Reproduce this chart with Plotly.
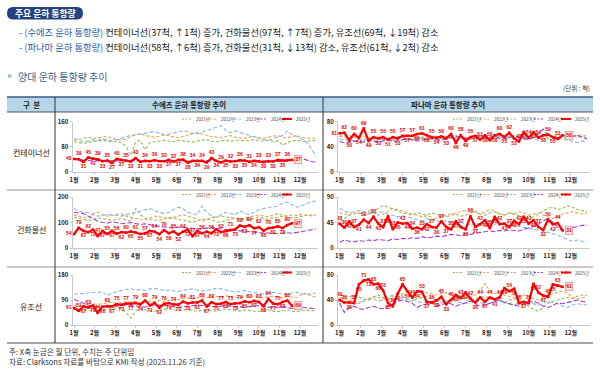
import plotly.graph_objects as go

W, H = 600, 373
def px(x): return x / W
def py(y): return 1 - y / H

FONT = "Noto Sans CJK KR"

# ---------------- data ----------------
months = [f"{m}월" for m in range(1, 13)]
years = ["2021년", "2022년", "2023년", "2024년", "2025년"]

# Suez - container
suez_con_2021 = [95,92,90,93,96,98,100,97,95,96,92,80,52,95,100,70,92,95,98,100,97,95,100,98,96,94,98,100,102,96,95,98,100,97,99,101,98,100,102,99,97,100,96,98,84,92,98,100,97,95,100,98]
suez_con_2022 = [100,104,108,110,106,108,110,112,106,102,100,104,110,118,120,115,112,110,112,116,115,110,108,112,118,122,125,120,115,112,110,108,112,115,110,108,106,110,112,108,106,110,112,115,110,108,112,115,110,106,108,105]
suez_con_2023 = [106,100,95,98,102,100,104,100,98,102,108,112,115,118,120,122,125,128,122,118,120,124,126,130,128,122,120,125,130,135,140,147,132,124,130,126,120,115,110,106,102,100,105,110,115,130,118,112,105,95,75,50]
suez_con_2024 = [42,38,36,35,34,32,33,35,34,33,34,35,36,34,33,32,34,35,33,34,32,33,34,35,33,32,34,33,35,34,33,32,34,33,31,33,34,32,33,35,34,33,32,30,31,33,35,38,42,36,32,30]
suez_con_2025 = [40,39,31,45,41,39,33,35,27,40,37,35,32,43,31,34,33,36,33,33,37,32,37,38,28,34,34,34,29,43,34,29,35,32,33,36,35,31,34,33,30,33,32,37,35,36,37]

# Panama - container
pan_con_2021 = [57,55,54,56,52,50,54,55,53,51,52,54,56,55,53,50,52,55,54,53,56,52,54,55,53,56,54,52,55,57,53,51,54,56,55,53,57,56,54,52,55,56,58,54,57,55,53,56,58,57,59,56]
pan_con_2022 = [56,58,57,55,54,56,53,52,55,54,52,50,53,55,52,51,54,53,55,52,51,54,56,53,55,57,54,52,56,58,55,53,56,60,57,55,58,56,54,57,59,56,58,55,57,59,56,58,57,55,56,54]
pan_con_2023 = [52,50,51,49,52,50,53,51,49,52,54,50,51,53,52,50,54,52,51,53,55,52,54,56,53,52,55,54,53,57,55,52,54,53,56,55,52,54,51,53,52,50,54,52,53,55,52,50,47,46,49,48]
pan_con_2024 = [48,46,47,49,48,47,50,48,47,49,51,48,49,50,52,51,49,50,52,53,51,50,52,55,57,54,53,55,58,56,54,55,57,53,52,55,56,54,53,51,55,60,68,58,55,54,57,59,56,58,55,52]
pan_con_2025 = [61,62,50,60,54,69,49,55,53,55,51,55,53,57,57,57,60,61,58,55,54,56,53,60,46,58,49,55,57,51,58,50,58,60,55,62,53,48,63,54,63,54,58,59,55,52,58]

# Suez - dry bulk
suez_dry_2021 = [120,115,110,108,112,118,115,110,108,112,115,110,105,155,130,118,112,110,108,115,120,118,112,110,105,100,108,112,115,110,105,100,108,112,118,115,110,112,118,122,115,112,118,120,125,122,118,120,125,128,130,126]
suez_dry_2022 = [130,125,120,118,135,140,130,125,128,132,135,125,120,115,112,110,118,125,122,118,115,120,125,130,125,120,110,105,112,118,120,125,122,118,115,112,118,122,128,130,125,122,130,135,128,125,130,128,132,130,126,130]
suez_dry_2023 = [155,145,140,138,130,125,128,132,130,128,125,130,135,140,145,150,155,145,140,135,140,150,160,155,140,135,130,165,140,125,120,130,140,135,130,145,138,130,140,150,155,158,160,165,175,180,170,160,165,175,180,185]
suez_dry_2024 = [140,138,135,125,115,105,100,98,102,100,95,98,100,96,92,95,90,88,85,82,80,78,82,80,78,76,75,74,78,80,77,75,72,70,68,66,65,63,62,60,60,58,57,56,58,60,58,60,64,68,72,75]
suez_dry_2025 = [54,79,67,62,72,47,67,55,67,56,62,60,65,61,55,57,67,64,54,70,58,65,52,64,72,47,67,58,64,58,73,62,66,71,73,88,83,89,77,82,68,78,80,85,78,90,97]

# Panama - dry bulk
pan_dry_2021 = [55,52,58,60,62,58,60,65,70,75,72,68,65,62,60,58,62,60,58,62,60,57,55,58,60,56,58,62,65,60,58,62,64,60,58,62,60,58,55,52,55,60,65,70,72,68,70,75,72,68,66,64]
pan_dry_2022 = [62,60,58,62,60,64,66,62,58,60,65,70,68,65,62,60,58,55,57,55,52,54,58,60,62,64,66,65,62,60,64,68,65,60,58,62,60,64,62,58,60,62,58,55,52,55,60,62,64,62,60,62]
pan_dry_2023 = [70,65,62,64,66,65,62,60,63,64,60,58,55,57,55,52,50,48,52,50,48,46,48,45,44,46,42,40,45,42,44,40,42,44,40,38,40,38,36,35,33,32,30,28,25,22,18,15,12,14,12,10]
pan_dry_2024 = [10,14,12,11,13,12,14,13,15,14,13,16,15,17,16,18,17,20,18,19,21,20,22,24,23,22,25,24,26,27,28,30,29,31,30,32,31,30,33,35,38,42,48,52,45,36,30,33,36,38,40,40]
pan_dry_2025 = [43,36,47,37,41,50,44,55,43,37,56,33,45,43,44,34,36,33,42,37,36,47,37,33,47,37,33,56,37,42,49,35,55,42,43,37,48,42,55,43,49,37,32,50,42,44,31]

# Suez - tanker
suez_tan_2021 = [62,58,55,52,55,58,54,56,60,62,58,45,25,50,62,55,52,50,54,56,58,55,52,54,56,52,50,53,55,52,50,54,58,55,52,50,54,52,50,48,52,55,50,48,52,54,50,48,52,55,50,52]
suez_tan_2022 = [70,68,72,75,78,74,76,80,82,78,80,84,82,85,80,83,86,84,88,85,90,88,92,95,98,94,100,96,98,104,102,100,105,102,100,98,104,106,102,100,98,102,104,100,98,102,100,98,110,115,105,100]
suez_tan_2023 = [110,115,112,114,118,116,120,105,115,120,125,128,130,126,128,124,130,132,128,124,126,122,120,125,128,130,126,122,124,128,132,130,126,120,118,122,124,120,118,115,112,116,118,114,112,110,115,118,112,110,112,115]
suez_tan_2024 = [92,85,78,72,68,66,65,64,66,68,70,72,70,68,66,65,68,70,72,70,68,66,64,66,68,70,72,70,68,66,65,68,70,68,66,65,64,66,68,70,66,64,62,64,66,62,60,62,64,62,60,58]
suez_tan_2025 = [61,51,67,63,70,44,66,68,67,75,73,77,77,79,74,88,71,79,62,76,79,74,73,84,78,81,81,88,67,82,75,77,83,75,78,79,85,82,87,83,68,94,77,75,83,88,69]

# Panama - tanker
pan_tan_2021 = [48,46,45,47,44,42,40,45,48,44,42,40,42,44,40,38,42,44,46,42,40,38,36,40,42,44,40,38,42,44,46,42,40,38,36,40,42,40,38,30,25,22,28,35,38,40,42,44,42,46,48,47]
pan_tan_2022 = [44,42,40,38,36,40,42,45,44,42,40,46,48,50,48,46,48,50,52,50,48,50,52,50,48,46,44,45,48,55,66,55,50,52,48,46,44,45,48,46,42,40,44,48,50,52,55,50,45,42,44,45]
pan_tan_2023 = [40,36,38,35,34,38,40,42,38,40,44,48,50,46,42,40,38,36,38,35,34,36,38,40,38,36,34,38,40,36,34,35,38,40,36,34,32,35,38,36,34,32,35,38,36,34,30,28,32,34,33,32]
pan_tan_2024 = [35,20,28,30,26,25,28,30,27,26,30,34,38,40,38,35,28,32,34,36,30,32,35,34,30,33,36,38,34,30,32,35,38,40,36,34,32,30,34,36,38,35,30,28,32,35,34,36,38,40,38,36]
pan_tan_2025 = [40,36,36,35,65,71,73,65,66,55,35,30,50,65,54,44,54,53,37,36,39,45,33,40,48,43,52,42,36,44,37,44,41,44,59,54,58,35,37,35,66,52,47,45,65,63,61]

suez_ticks = {"con": [0, 80, 160], "dry": [0, 100, 200], "tan": [0, 90, 180]}
pan_ticks = {"con": [0, 40, 80], "dry": [0, 45, 90], "tan": [0, 40, 80]}

# ---------------- styling / layout ----------------
colors = ["#8BBE54", "#F2A04A", "#86B8E4", "#A23FCC", "#FF0000"]
dashes = ["3px,2px", "3px,2px", "4px,2px", "5px,2px", "solid"]

# column geometry (pixels): (domain left, domain right, first-week px, px per week)
cols = [(72.5, 318, 74, 4.74), (338, 590, 339.5, 4.85)]
# row geometry: (y of 0, y of max)
rows = [(171.5, 121.5), (248, 197), (325, 275)]

charts = [
    (0, 0, [suez_con_2021, suez_con_2022, suez_con_2023, suez_con_2024, suez_con_2025], suez_ticks["con"], "middle left"),
    (0, 1, [pan_con_2021, pan_con_2022, pan_con_2023, pan_con_2024, pan_con_2025], pan_ticks["con"], "middle left"),
    (1, 0, [suez_dry_2021, suez_dry_2022, suez_dry_2023, suez_dry_2024, suez_dry_2025], suez_ticks["dry"], "middle left"),
    (1, 1, [pan_dry_2021, pan_dry_2022, pan_dry_2023, pan_dry_2024, pan_dry_2025], pan_ticks["dry"], "top center"),
    (2, 0, [suez_tan_2021, suez_tan_2022, suez_tan_2023, suez_tan_2024, suez_tan_2025], suez_ticks["tan"], "middle left"),
    (2, 1, [pan_tan_2021, pan_tan_2022, pan_tan_2023, pan_tan_2024, pan_tan_2025], pan_ticks["tan"], "top center"),
]

month_pos = [1 + i * 52 / 12 for i in range(12)]

fig = go.Figure()
layout = dict(template="none", width=W, height=H, autosize=False, margin=dict(l=0, r=0, t=0, b=0, pad=0),
              paper_bgcolor="white", plot_bgcolor="rgba(0,0,0,0)",
              showlegend=False, font=dict(family=FONT, color="#222"))
annotations = []
shapes = []

def note(x, y, text, size, color="#222", xanchor="center"):
    annotations.append(dict(x=px(x), y=py(y), xref="paper", yref="paper", text=text, showarrow=False,
                            xanchor=xanchor, yanchor="middle",
                            font=dict(size=size, color=color, family=FONT)))

for k, (r, c, series, ticks, first_pos) in enumerate(charts, start=1):
    xs = "" if k == 1 else str(k)
    dl, dr, w1, s = cols[c]
    y0, ytop = rows[r]
    xr = [1 - (w1 - dl) / s, 1 + (dr - w1) / s]
    layout["xaxis" + xs] = dict(domain=[px(dl), px(dr)], range=xr, anchor="y" + xs, automargin=False,
                                tickvals=month_pos, ticktext=months, showline=True,
                                linecolor="#C8C8C8", linewidth=1, ticks="outside", ticklen=2,
                                tickcolor="#C8C8C8", showgrid=False, zeroline=False,
                                tickfont=dict(size=6, family=FONT, color="#222", weight="bold"))
    layout["yaxis" + xs] = dict(domain=[py(y0), py(ytop)], range=[ticks[0], ticks[-1]],
                                anchor="x" + xs, tickvals=ticks, showline=True, automargin=False,
                                linecolor="#C8C8C8", linewidth=1, ticks="outside", ticklen=2,
                                tickcolor="#C8C8C8", showgrid=False, zeroline=False,
                                tickfont=dict(size=6, family=FONT, color="#222", weight="bold"))
    for i, vals in enumerate(series):
        weeks = list(range(1, len(vals) + 1))
        if i < 4:
            fig.add_trace(go.Scatter(x=weeks, y=vals, mode="lines", name=years[i],
                                     line=dict(color=colors[i], width=1.1, dash=dashes[i]),
                                     xaxis="x" + xs, yaxis="y" + xs, cliponaxis=False,
                                     hoverinfo="skip"))
        else:
            n = len(vals)
            pos, txt = [], []
            for j, v in enumerate(vals):
                if j == 0:
                    pos.append(first_pos)
                elif j % 2 == 1:
                    pos.append("top center")
                else:
                    pos.append("bottom center")
                txt.append("" if j == n - 1 else str(v))
            fig.add_trace(go.Scatter(x=weeks, y=vals, mode="lines+markers+text", name=years[i],
                                     line=dict(color=colors[i], width=2.2),
                                     marker=dict(size=2.5, color=colors[i], symbol="square"),
                                     text=txt, textposition=pos,
                                     textfont=dict(size=5, color="#E00000", family="Liberation Sans", weight="bold"),
                                     xaxis="x" + xs, yaxis="y" + xs, cliponaxis=False,
                                     hoverinfo="skip"))
            annotations.append(dict(x=n, y=vals[-1], xref="x" + xs, yref="y" + xs,
                                    text=str(vals[-1]), showarrow=False, xanchor="left", yanchor="middle",
                                    xshift=2, font=dict(size=5, color="#E00000", family="Liberation Sans", weight="bold"),
                                    bgcolor="#FCE4E4", bordercolor="#F08A8A", borderwidth=0.8, borderpad=0.5))
    # manual legend
    ly = ytop - 2.5
    lx0, pitch = (182, 25) if c == 0 else (453, 27)
    for i in range(5):
        x0 = lx0 + i * pitch
        shapes.append(dict(type="line", xref="paper", yref="paper", x0=px(x0), x1=px(x0 + 10),
                           y0=py(ly), y1=py(ly),
                           line=dict(color=colors[i], width=2 if i == 4 else 1,
                                     dash="solid" if i == 4 else "2px,1.5px")))
        if i == 4:
            shapes.append(dict(type="rect", xref="paper", yref="paper", x0=px(x0 + 4), x1=px(x0 + 6),
                               y0=py(ly - 1), y1=py(ly + 1), fillcolor=colors[i], line=dict(width=0)))
        note(x0 + 11.5, ly, years[i], 4.5, "#444", xanchor="left")

# ---------------- page text & table ----------------
BLUE = "#2F5BA8"
# badge (pill)
bx0, bx1, by0, by1, rr = 7, 83, 7, 19.5, 6
path = (f"M {px(bx0+rr)},{py(by0)} L {px(bx1-rr)},{py(by0)} "
        f"Q {px(bx1)},{py(by0)} {px(bx1)},{py((by0+by1)/2)} "
        f"Q {px(bx1)},{py(by1)} {px(bx1-rr)},{py(by1)} "
        f"L {px(bx0+rr)},{py(by1)} "
        f"Q {px(bx0)},{py(by1)} {px(bx0)},{py((by0+by1)/2)} "
        f"Q {px(bx0)},{py(by0)} {px(bx0+rr)},{py(by0)} Z")
shapes.append(dict(type="path", xref="paper", yref="paper", path=path,
                   fillcolor="#23447E", line=dict(width=0), layer="below"))
note(45, 13.3, "<b>주요 운하 통항량</b>", 8.8, "white")

line1 = (f"<span style='color:{BLUE}'>- (수에즈 운하 통항량)</span> 컨테이너선(37척, ↑1척) 증가, "
         "건화물선(97척, ↑7척) 증가, 유조선(69척, ↓19척) 감소")
line2 = (f"<span style='color:{BLUE}'>- (파나마 운하 통항량)</span> 컨테이너선(58척, ↑6척) 증가, "
         "건화물선(31척, ↓13척) 감소, 유조선(61척, ↓2척) 감소")
note(17, 32, line1, 9.3, "#1A1A1A", xanchor="left")
note(17, 47, line2, 9.3, "#1A1A1A", xanchor="left")

shapes.append(dict(type="rect", xref="paper", yref="paper", x0=px(8), x1=px(11.5), y0=py(74.3), y1=py(77.8),
                   fillcolor="#A8C2DA", line=dict(width=0)))
note(16, 76, "양대 운하 통항량 추이", 10, "#3D5F8E", xanchor="left")
note(592, 87.5, "(단위 : 척)", 6.5, "#333", xanchor="right")

# table header
shapes.append(dict(type="rect", xref="paper", yref="paper", x0=px(7), x1=px(593), y0=py(112), y1=py(97),
                   fillcolor="#B5D6E7", line=dict(width=0), layer="below"))
shapes.append(dict(type="line", xref="paper", yref="paper", x0=px(7), x1=px(593), y0=py(97), y1=py(97),
                   line=dict(color="#3B5B86", width=1.5)))
shapes.append(dict(type="line", xref="paper", yref="paper", x0=px(7), x1=px(593), y0=py(112), y1=py(112),
                   line=dict(color="#555", width=1)))
for yy in (190, 267):
    shapes.append(dict(type="line", xref="paper", yref="paper", x0=px(7), x1=px(593), y0=py(yy), y1=py(yy),
                       line=dict(color="#777", width=0.8)))
shapes.append(dict(type="line", xref="paper", yref="paper", x0=px(7), x1=px(593), y0=py(343), y1=py(343),
                   line=dict(color="#8A8A8A", width=1.6)))
for xx in (55, 323):
    shapes.append(dict(type="line", xref="paper", yref="paper", x0=px(xx), x1=px(xx), y0=py(97), y1=py(343),
                       line=dict(color="#333", width=1)))

for t, xx in [("구  분", 31), ("수에즈 운하 통항량 추이", 189), ("파나마 운하 통항량 추이", 448)]:
    note(xx, 104.5, f"<b>{t}</b>", 7.5, "#222")
for t, yy in [("컨테이너선", 152.5), ("건화물선", 229), ("유조선", 306)]:
    note(31, yy, t, 8, "#222")

note(7, 351.5, "주: X축 눈금은 월 단위, 수치는 주 단위임", 7.6, "#333", xanchor="left")
note(7, 361, "자료: Clarksons 자료를 바탕으로 KMI 작성 (2025.11.26 기준)", 7.6, "#333", xanchor="left")

layout["annotations"] = annotations
layout["shapes"] = shapes
fig.update_layout(**layout)
fig.write_html("out.html", config={"displayModeBar": False, "staticPlot": True},
               post_script="document.body.style.margin='0';document.body.style.overflow='hidden';")
